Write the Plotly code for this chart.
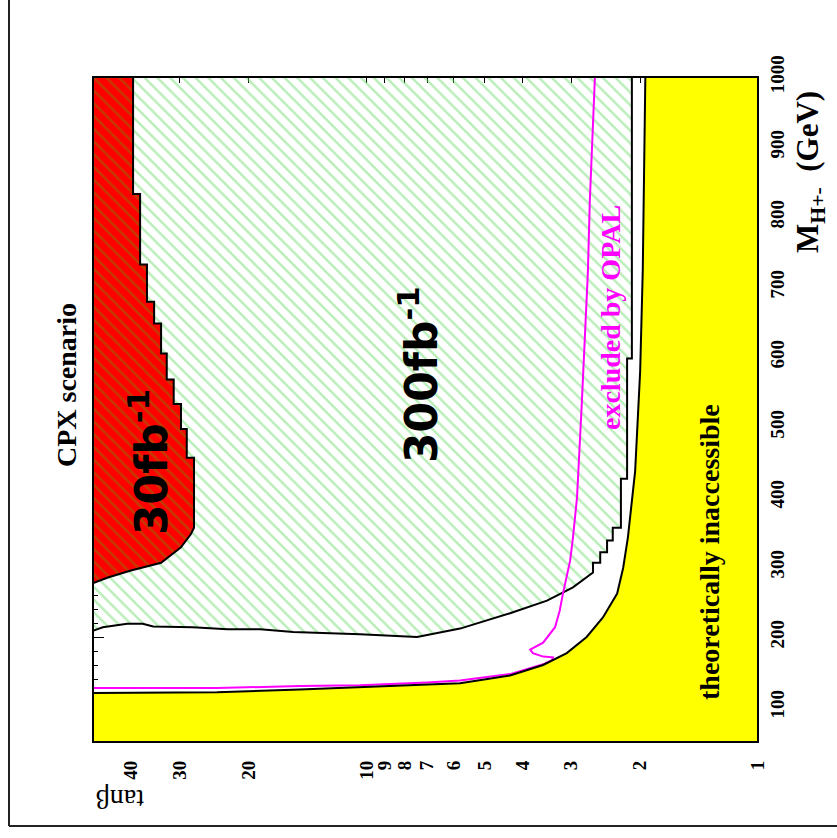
import math
import plotly.graph_objects as go

# ---- axis ticks -------------------------------------------------------------
tanb_ticks = [1, 2, 3, 4, 5, 6, 7, 8, 9, 10, 20, 30, 40]
mass_ticks = [100, 200, 300, 400, 500, 600, 700, 800, 900, 1000]

# ---- theoretically inaccessible region (boundary, from high mass down) ------
theo_tanb = [1.94, 1.97, 2.00, 2.06, 2.15, 2.21, 2.29, 2.49, 2.74, 3.08, 3.54,
             4.30, 5.77, 10.4, 14.8, 24.1, 50.0]
theo_mass = [1000, 722, 580, 437, 342, 299, 262, 228, 200, 177, 160,
             145, 134, 128, 125, 121, 120]

# ---- 300 fb-1 discovery region ----------------------------------------------
# stepped high-mass edge: tanb level held between consecutive mass breaks
d300_step_tanb = [2.10, 2.16, 2.24, 2.35, 2.43, 2.53, 2.64]
d300_step_mass = [1000, 598, 426, 356, 338, 321, 306, 292]
# low-mass edge
d300_low_tanb = [2.97, 3.46, 4.30, 5.77, 7.43, 10.4, 15.4, 18.7, 22.7, 27.8,
                 35.1, 37.3, 40.9, 47.2, 50.0]
d300_low_mass = [271, 252, 234, 212, 200, 204, 207, 211, 211, 214,
                 215, 219, 219, 214, 209]

# ---- 30 fb-1 discovery region -----------------------------------------------
d30_step_tanb = [39.5, 37.9, 36.4, 34.9, 33.5, 32.4, 31.1, 29.8, 28.8, 27.6]
d30_step_mass = [1000, 833, 732, 679, 648, 605, 568, 533, 497, 456, 356]
d30_low_tanb = [28.1, 29.8, 33.5, 40.0, 45.8, 50.0]
d30_low_mass = [347, 328, 306, 295, 285, 277]

# ---- OPAL exclusion contour -------------------------------------------------
opal_tanb = [50.0, 24.1, 14.8, 10.4, 7.01, 5.77, 4.30, 3.54, 3.36, 3.34, 3.54,
             3.76, 3.82, 3.54, 3.30, 3.21, 3.15, 3.02, 2.97, 2.90, 2.82, 2.72,
             2.69, 2.61]
opal_mass = [127, 127, 130, 131, 135, 138, 147, 161, 167, 171, 172,
             177, 182, 192, 214, 238, 262, 309, 342, 399, 533, 722,
             822, 1000]

TB_MIN, TB_MAX = 1.0, 50.0
M_MIN, M_MAX = 50.0, 1000.0


def stepped(levels, breaks):
    xs, ys = [], []
    for i, lv in enumerate(levels):
        xs += [lv, lv]
        ys += [breaks[i], breaks[i + 1]]
    return xs, ys


# polygon of the 300 fb-1 region
sx, sy = stepped(d300_step_tanb, d300_step_mass)
r300_x = [TB_MAX] + sx + d300_low_tanb + [TB_MAX]
r300_y = [M_MAX] + sy + d300_low_mass + [M_MAX]

# polygon of the 30 fb-1 region
sx, sy = stepped(d30_step_tanb, d30_step_mass)
r30_x = [TB_MAX] + sx + d30_low_tanb + [TB_MAX]
r30_y = [M_MAX] + sy + d30_low_mass + [M_MAX]

# polygon of the inaccessible region
th_x = theo_tanb + [TB_MAX, TB_MIN, TB_MIN, theo_tanb[0]]
th_y = theo_mass + [M_MIN, M_MIN, M_MAX, theo_mass[0]]

fig = go.Figure()

fig.add_trace(go.Scatter(
    x=r300_x, y=r300_y, mode="lines", fill="toself",
    fillcolor="rgba(255,255,255,0)",
    fillpattern=dict(shape="\\", fgcolor="#6fdc6f", bgcolor="rgba(255,255,255,0)",
                     size=9, solidity=0.26),
    line=dict(color="black", width=2), hoverinfo="skip", showlegend=False))

fig.add_trace(go.Scatter(
    x=r30_x, y=r30_y, mode="lines", fill="toself", fillcolor="#ff0000",
    fillpattern=dict(shape="\\", fgcolor="#7f7a00", bgcolor="#ff0000",
                     size=9, solidity=0.26),
    line=dict(color="black", width=2), hoverinfo="skip", showlegend=False))

fig.add_trace(go.Scatter(
    x=opal_tanb, y=opal_mass, mode="lines",
    line=dict(color="#ff00ff", width=2), hoverinfo="skip", showlegend=False))

fig.add_trace(go.Scatter(
    x=th_x, y=th_y, mode="lines", fill="toself", fillcolor="#ffff00",
    line=dict(color="black", width=2), hoverinfo="skip", showlegend=False))

tick_font = dict(family="Liberation Serif", size=19, color="black", weight="bold")

fig.update_xaxes(
    type="log", range=[math.log10(TB_MAX), math.log10(TB_MIN)],
    tickvals=tanb_ticks, ticktext=[str(v) for v in tanb_ticks],
    ticks="inside", ticklen=6, tickwidth=1, tickcolor="black", mirror="ticks",
    tickangle=-90, tickfont=tick_font, ticklabelstandoff=14,
    showgrid=False, zeroline=False, showline=False, layer="below traces")

fig.update_yaxes(
    range=[M_MIN, M_MAX], side="right",
    tickvals=mass_ticks, ticktext=[str(v) for v in mass_ticks],
    ticks="inside", ticklen=11, tickwidth=1, tickcolor="black", mirror="ticks",
    minor=dict(dtick=20, tick0=0, ticks="inside", ticklen=5, tickcolor="black"),
    tickangle=-90, tickfont=tick_font, ticklabelstandoff=6,
    showgrid=False, zeroline=False, showline=False, layer="below traces")

W, H = 837, 838
L, R, T, B = 93, 79, 77, 96
PW, PH = W - L - R, H - T - B


def px(xp):
    return (xp - L) / PW


def py(yp):
    return (H - B - yp) / PH


serif = "Liberation Serif"
ann = [
    dict(text="CPX scenario", x=px(66), y=py(385), textangle=-90,
         font=dict(family=serif, size=28, color="black", weight="bold")),
    dict(text="tanβ", x=px(120), y=py(800), textangle=180,
         font=dict(family=serif, size=28, color="black")),
    dict(text="M<sub>H+-</sub>  (GeV)", x=px(810), y=py(172), textangle=-90,
         font=dict(family=serif, size=31, color="black", weight="bold")),
    dict(text="theoretically inaccessible", x=px(709), y=py(552), textangle=-90,
         font=dict(family=serif, size=28, color="black", weight="bold")),
    dict(text="excluded by OPAL", x=px(610), y=py(318), textangle=-90,
         font=dict(family=serif, size=28, color="#ff00ff", weight="bold")),
    dict(text="300fb<sup>-1</sup>", x=px(418), y=py(375), textangle=-90,
         font=dict(family="DejaVu Sans", size=44, color="black", weight="bold")),
    dict(text="30fb<sup>-1</sup>", x=px(148), y=py(462), textangle=-90,
         font=dict(family="DejaVu Sans", size=44, color="black", weight="bold")),
]
for a in ann:
    a.update(xref="paper", yref="paper", showarrow=False,
             xanchor="center", yanchor="middle")

shapes = [
    dict(type="rect", xref="paper", yref="paper", x0=0, x1=1, y0=0, y1=1,
         line=dict(color="black", width=2), layer="above"),
    dict(type="line", xref="paper", yref="paper", x0=px(9), x1=px(9),
         y0=py(826), y1=py(-20), line=dict(color="#222222", width=2)),
    dict(type="line", xref="paper", yref="paper", x0=px(9), x1=px(860),
         y0=py(826), y1=py(826), line=dict(color="#222222", width=2)),
]

fig.update_layout(
    width=W, height=H, margin=dict(l=L, r=R, t=T, b=B, autoexpand=False),
    paper_bgcolor="white", plot_bgcolor="white",
    annotations=ann, shapes=shapes, showlegend=False)

fig.write_html("out.html")
